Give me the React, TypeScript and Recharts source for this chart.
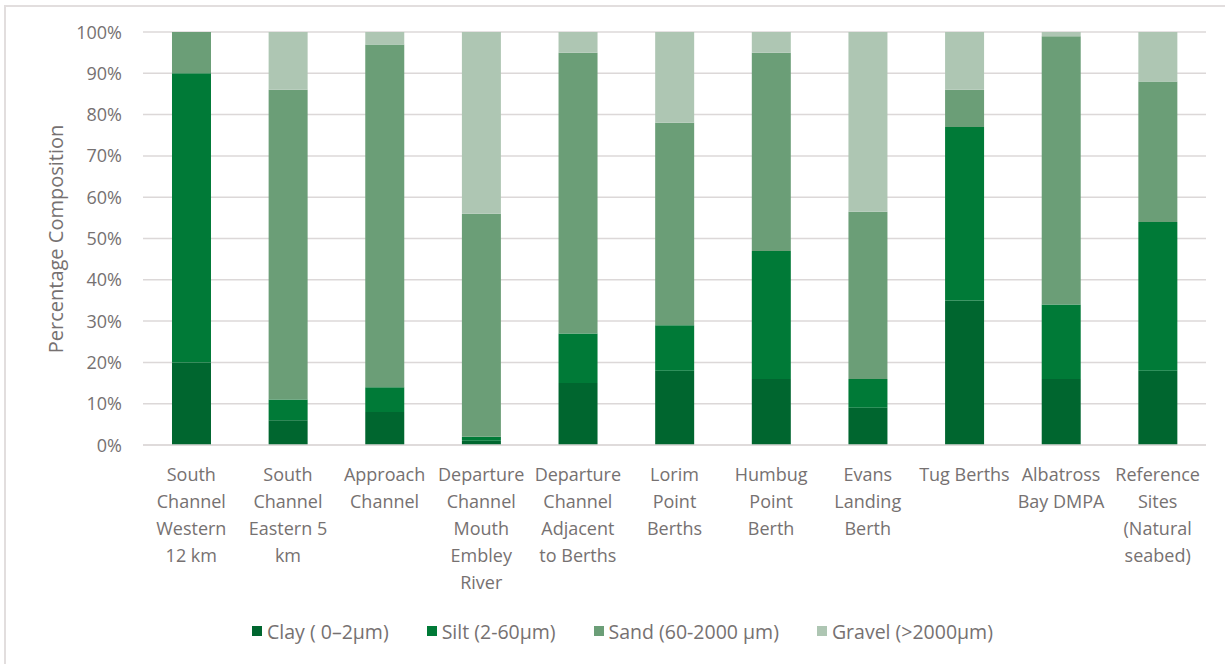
import React from "react";
import { BarChart, Bar, XAxis, YAxis, CartesianGrid, Legend } from "recharts";

const categories = [
  "South\nChannel\nWestern\n12 km",
  "South\nChannel\nEastern 5\nkm",
  "Approach\nChannel",
  "Departure\nChannel\nMouth\nEmbley\nRiver",
  "Departure\nChannel\nAdjacent\nto Berths",
  "Lorim\nPoint\nBerths",
  "Humbug\nPoint\nBerth",
  "Evans\nLanding\nBerth",
  "Tug Berths",
  "Albatross\nBay DMPA",
  "Reference\nSites\n(Natural\nseabed)",
];

const clay = [20, 6, 8, 1, 15, 18, 16, 9, 35, 16, 18];
const silt = [70, 5, 6, 1, 12, 11, 31, 7, 42, 18, 36];
const sand = [10, 75, 83, 54, 68, 49, 48, 40.5, 9, 65, 34];
const gravel = [0, 14, 3, 44, 5, 22, 5, 43.5, 14, 1, 12];

const yTicks = [0, 10, 20, 30, 40, 50, 60, 70, 80, 90, 100];

const seriesNames = ["Clay ( 0–2µm)", "Silt (2-60µm)", "Sand (60-2000 µm)", "Gravel (>2000µm)"];
const seriesColors = ["#00662F", "#007A37", "#6B9E77", "#AEC6B3"];

const data = categories.map((name, i) => ({
  name,
  clay: clay[i],
  silt: silt[i],
  sand: sand[i],
  gravel: gravel[i],
}));

const FONT = "'Open Sans', sans-serif";
const TEXT = "#767171";

const CategoryTick = ({ x, y, payload }: any) => {
  const lines = String(payload.value).split("\n");
  return (
    <text x={x} y={y + 28} textAnchor="middle" fill={TEXT} fontSize={18} fontFamily={FONT}>
      {lines.map((l: string, i: number) => (
        <tspan key={i} x={x} dy={i === 0 ? 0 : 27}>
          {l}
        </tspan>
      ))}
    </text>
  );
};

const PercentTick = ({ y, payload }: any) => (
  <text x={122} y={y + 6.5} textAnchor="end" fill={TEXT} fontSize={18} fontFamily={FONT}>
    {payload.value}%
  </text>
);

const LegendContent = ({ payload }: any) => {
  const items = [...(payload || [])].sort(
    (a: any, b: any) => seriesNames.indexOf(a.value) - seriesNames.indexOf(b.value)
  );
  return (
    <div style={{ display: "flex", justifyContent: "center", gap: 38, fontFamily: FONT, fontSize: 19.5, color: TEXT, marginLeft: 20, height: 26 }}>
      {items.map((p: any, i: number) => (
        <div key={i} style={{ display: "flex", alignItems: "center" }}>
          <span style={{ width: 10, height: 10, background: p.color, marginRight: 5, display: "inline-block" }} />
          {p.value}
        </div>
      ))}
    </div>
  );
};

export default function App() {
  return (
    <div style={{ position: "absolute", left: 0, top: 0, width: 1225, height: 664, overflow: "hidden", background: "#fff" }}>
      <div
        style={{
          position: "absolute",
          left: 4,
          top: 5,
          width: 1240,
          height: 680,
          border: "2px solid #e2dede",
        }}
      />
      <div
        style={{
          position: "absolute",
          left: 55,
          top: 239,
          transform: "translate(-50%, -50%) rotate(-90deg)",
          fontFamily: FONT,
          fontSize: 20,
          color: TEXT,
          whiteSpace: "nowrap",
        }}
      >
        Percentage Composition
      </div>
      <BarChart
        width={1225}
        height={664}
        data={data}
        margin={{ top: 32, right: 19, left: 83, bottom: 43 }}
        barCategoryGap="30%"
        style={{ position: "absolute", left: 0, top: 0 }}
      >
        <CartesianGrid vertical={false} stroke="#dcd8d8" strokeWidth={1.5} />
        <XAxis
          dataKey="name"
          interval={0}
          height={150}
          tick={<CategoryTick />}
          tickLine={false}
          axisLine={{ stroke: "#dcd8d8", strokeWidth: 1.5 }}
        />
        <YAxis
          width={60}
          domain={[0, 100]}
          ticks={yTicks}
          tick={<PercentTick />}
          tickLine={false}
          axisLine={false}
        />
        <Legend
          verticalAlign="bottom"
          content={<LegendContent />}
          wrapperStyle={{ position: "absolute", left: 0, width: 1225, top: 618 }}
        />
        <Bar dataKey="clay" name={seriesNames[0]} stackId="a" fill={seriesColors[0]} isAnimationActive={false} />
        <Bar dataKey="silt" name={seriesNames[1]} stackId="a" fill={seriesColors[1]} isAnimationActive={false} />
        <Bar dataKey="sand" name={seriesNames[2]} stackId="a" fill={seriesColors[2]} isAnimationActive={false} />
        <Bar dataKey="gravel" name={seriesNames[3]} stackId="a" fill={seriesColors[3]} isAnimationActive={false} />
      </BarChart>
    </div>
  );
}
